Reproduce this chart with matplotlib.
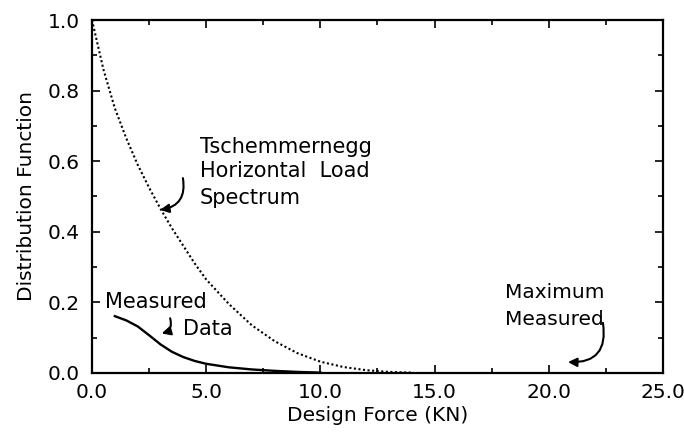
import matplotlib
matplotlib.use('Agg')
import matplotlib.pyplot as plt
from matplotlib.ticker import MultipleLocator, FormatStrFormatter

# Tschemmernegg horizontal load spectrum (dotted)
spectrum_x = [0.0, 0.5, 1.0, 1.5, 2.0, 2.5, 3.0, 3.5, 4.0, 4.5, 5.0, 6.0, 7.0,
              8.0, 9.0, 10.0, 11.0, 12.0, 13.0, 14.0]
spectrum_y = [1.0, 0.86, 0.75, 0.665, 0.59, 0.525, 0.465, 0.41, 0.36, 0.31,
              0.265, 0.195, 0.135, 0.09, 0.056, 0.032, 0.017, 0.008, 0.003, 0.001]

# Measured data (solid)
measured_x = [1.0, 1.5, 2.0, 2.5, 3.0, 3.5, 4.0, 4.5, 5.0, 6.0, 7.0, 8.0,
              9.0, 10.0]
measured_y = [0.161, 0.149, 0.132, 0.107, 0.081, 0.06, 0.045, 0.034, 0.026,
              0.016, 0.01, 0.006, 0.003, 0.001]

plt.rcParams['font.family'] = 'DejaVu Sans'

fig = plt.figure(figsize=(6.84, 4.33), dpi=100)
ax = fig.add_axes([0.1345, 0.1386, 0.8348, 0.8152])

ax.plot(spectrum_x, spectrum_y, color='black', linewidth=1.5,
        linestyle=(0, (1, 1.2)))
ax.plot(measured_x, measured_y, color='black', linewidth=1.7)

ax.set_xlim(0, 25)
ax.set_ylim(0, 1.0)
ax.xaxis.set_major_locator(MultipleLocator(5))
ax.xaxis.set_minor_locator(MultipleLocator(2.5))
ax.yaxis.set_major_locator(MultipleLocator(0.2))
ax.yaxis.set_minor_locator(MultipleLocator(0.1))
ax.xaxis.set_major_formatter(FormatStrFormatter('%.1f'))
ax.yaxis.set_major_formatter(FormatStrFormatter('%.1f'))

ax.tick_params(which='both', direction='in', top=True, right=True,
               width=1.2, labelsize=14.5)
ax.tick_params(which='major', length=6)
ax.tick_params(which='minor', length=3.5)
ax.tick_params(axis='y', pad=9)
ax.tick_params(axis='x', pad=7)
for sp in ax.spines.values():
    sp.set_linewidth(1.6)

ax.set_xlabel('Design Force (KN)', fontsize=14.5, labelpad=3)
ax.set_ylabel('Distribution Function', fontsize=14.5, labelpad=8)

# annotations
txt = dict(fontsize=15, color='black', va='baseline', ha='left')
ax.text(4.73, 0.623, 'Tschemmernegg', **txt)
ax.text(4.73, 0.554, 'Horizontal  Load', **txt)
ax.text(4.73, 0.479, 'Spectrum', **txt)
ax.text(0.57, 0.184, 'Measured', **txt)
ax.text(3.98, 0.108, 'Data', **txt)
ax.text(18.08, 0.212, 'Maximum', fontsize=14.5, va='baseline', ha='left')
ax.text(18.08, 0.136, 'Measured', fontsize=14.5, va='baseline', ha='left')

arrow = dict(arrowstyle='-|>', color='black', lw=1.5, mutation_scale=13,
             shrinkA=0, shrinkB=0)
ax.annotate('', xy=(2.98, 0.462), xytext=(3.98, 0.552),
            arrowprops=dict(connectionstyle='arc3,rad=-0.5', **arrow))
ax.annotate('', xy=(3.05, 0.112), xytext=(3.42, 0.155),
            arrowprops=dict(connectionstyle='arc3,rad=-0.5', **arrow))
ax.annotate('', xy=(20.84, 0.031), xytext=(22.37, 0.142),
            arrowprops=dict(connectionstyle='arc3,rad=-0.6', **arrow))

fig.savefig('out.png', dpi=100)
